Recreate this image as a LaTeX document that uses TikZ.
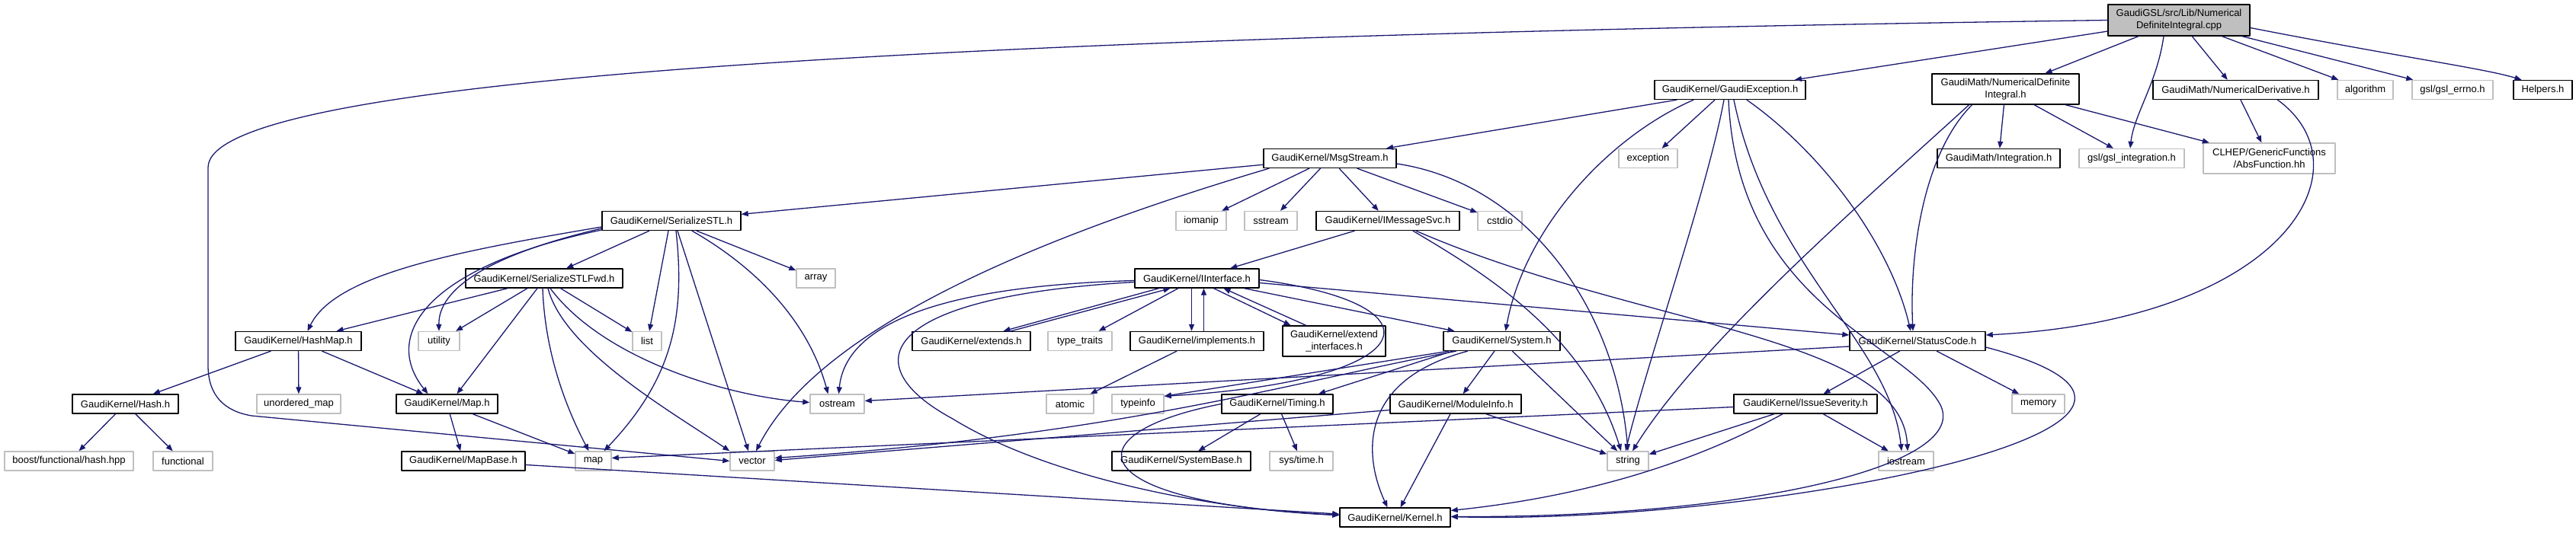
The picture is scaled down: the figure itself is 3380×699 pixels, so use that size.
\documentclass[tikz,border=0pt]{standalone}
\usepackage{fontspec}
\setmainfont{Liberation Sans}
\usepackage{tikz}
\usetikzlibrary{arrows.meta}
\definecolor{edgeblue}{HTML}{191970}
\definecolor{extgray}{HTML}{BFBFBF}
\tikzset{
  hdr/.style={draw=black,line width=1.4pt,fill=white,inner sep=0pt,minimum height=25,align=center,font=\fontsize{13}{16}\selectfont},
  ext/.style={hdr,draw=extgray},
  dep/.style={->,color=edgeblue,line width=1.3pt}
}
\begin{document}
\begin{tikzpicture}[line cap=round,line join=round,>={Triangle[length=9pt,width=7pt]},x=1pt,y=-1pt]
  \useasboundingbox (0,0) rectangle (3380,699);
  \node[hdr,fill=extgray,minimum width=186,minimum height=41] (root) at (2859,26.5) {GaudiGSL/src/Lib/Numerical\\DefiniteIntegral.cpp};
  \node[hdr,minimum width=198] (exc) at (2270,118) {GaudiKernel/GaudiException.h};
  \node[hdr,minimum width=193,minimum height=40] (ndi) at (2631.5,117) {GaudiMath/NumericalDefinite\\Integral.h};
  \node[hdr,minimum width=217] (nder) at (2933.5,118) {GaudiMath/NumericalDerivative.h};
  \node[ext,minimum width=73] (algo) at (3103.5,118) {algorithm};
  \node[ext,minimum width=106] (errno) at (3218,118) {gsl/gsl\_errno.h};
  \node[hdr,minimum width=77] (helpers) at (3336.5,118) {Helpers.h};
  \node[hdr,minimum width=174] (msg) at (1745,208) {GaudiKernel/MsgStream.h};
  \node[ext,minimum width=77] (exception) at (2162.5,208) {exception};
  \node[hdr,minimum width=161] (integ) at (2622.5,208) {GaudiMath/Integration.h};
  \node[ext,minimum width=138] (gslint) at (2797,208) {gsl/gsl\_integration.h};
  \node[ext,minimum width=173,minimum height=40] (absf) at (2977.5,208) {CLHEP/GenericFunctions\\/AbsFunction.hh};
  \node[hdr,minimum width=182] (sstl) at (881,290) {GaudiKernel/SerializeSTL.h};
  \node[ext,minimum width=66] (iomanip) at (1576,290) {iomanip};
  \node[ext,minimum width=69] (sstream) at (1667.5,290) {sstream};
  \node[hdr,minimum width=188] (imsg) at (1821,290) {GaudiKernel/IMessageSvc.h};
  \node[ext,minimum width=58] (cstdio) at (1968,290) {cstdio};
  \node[hdr,minimum width=206] (sfwd) at (714,365.5) {GaudiKernel/SerializeSTLFwd.h};
  \node[ext,minimum width=51] (array) at (1070.5,365.5) {array};
  \node[hdr,minimum width=163] (iint) at (1570.5,365.5) {GaudiKernel/IInterface.h};
  \node[hdr,minimum width=165] (hmap) at (391.5,448) {GaudiKernel/HashMap.h};
  \node[ext,minimum width=54] (utility) at (576,448) {utility};
  \node[ext,minimum width=38] (list) at (849,448) {list};
  \node[hdr,minimum width=155] (extends) at (1274.5,448) {GaudiKernel/extends.h};
  \node[ext,minimum width=84] (ttraits) at (1417,448) {type\_traits};
  \node[hdr,minimum width=175] (impl) at (1570.5,448) {GaudiKernel/implements.h};
  \node[hdr,minimum width=135,minimum height=40] (extif) at (1750.5,448) {GaudiKernel/extend\\\_interfaces.h};
  \node[hdr,minimum width=153] (sys) at (1970.5,448) {GaudiKernel/System.h};
  \node[hdr,minimum width=178] (stc) at (2516,448) {GaudiKernel/StatusCode.h};
  \node[hdr,minimum width=139] (hash) at (164.5,530.5) {GaudiKernel/Hash.h};
  \node[ext,minimum width=110] (umap) at (392,530.5) {unordered\_map};
  \node[hdr,minimum width=133] (gkmap) at (586.5,530.5) {GaudiKernel/Map.h};
  \node[ext,minimum width=71] (ostream) at (1098.5,530.5) {ostream};
  \node[ext,minimum width=62] (atomic) at (1404,530.5) {atomic};
  \node[ext,minimum width=68] (typeinfo) at (1493,530.5) {typeinfo};
  \node[hdr,minimum width=146] (timing) at (1676,530.5) {GaudiKernel/Timing.h};
  \node[hdr,minimum width=172] (modinfo) at (1910,530.5) {GaudiKernel/ModuleInfo.h};
  \node[hdr,minimum width=188] (issue) at (2369,530.5) {GaudiKernel/IssueSeverity.h};
  \node[ext,minimum width=69] (memory) at (2674.5,530.5) {memory};
  \node[ext,minimum width=169] (boosthash) at (90.5,605.5) {boost/functional/hash.hpp};
  \node[ext,minimum width=78] (functional) at (240,605.5) {functional};
  \node[hdr,minimum width=162] (mapbase) at (608,605.5) {GaudiKernel/MapBase.h};
  \node[ext,minimum width=47] (map) at (778.5,605.5) {map};
  \node[ext,minimum width=58] (vector) at (987,605.5) {vector};
  \node[hdr,minimum width=182] (sysbase) at (1550,605.5) {GaudiKernel/SystemBase.h};
  \node[ext,minimum width=83] (systime) at (1707.5,605.5) {sys/time.h};
  \node[ext,minimum width=54] (string) at (2136,605.5) {string};
  \node[ext,minimum width=72] (iostream) at (2501,605.5) {iostream};
  \node[hdr,minimum width=145] (kernel) at (1830.5,679.5) {GaudiKernel/Kernel.h};

  \draw[dep] (root) -- (exc);
  \draw[dep] (root) -- (ndi);
  \draw[dep] ([xshift=-20]root.south) .. controls (2830,110) and (2800,150) .. ([xshift=-2]gslint.north);
  \draw[dep] (root) -- (nder);
  \draw[dep] (root) -- (algo);
  \draw[dep] (root) -- (errno);
  \draw[dep] ([yshift=-10]root.east) .. controls (3150,75) and (3260,90) .. ([xshift=-28]helpers.north);
  \draw[dep] (root.west) .. controls (1100,50) and (273,110) .. (273,220) -- (273,480) .. controls (273,520) and (295,540) .. (330,546) -- (vector.west);

  \draw[dep] ([xshift=-70]exc.south) -- ([xshift=74]msg.north);
  \draw[dep] ([xshift=-48]exc.south) .. controls (2110,180) and (2000,300) .. ([xshift=5]sys.north);
  \draw[dep] ([xshift=-20]exc.south) -- ([xshift=18]exception.north);
  \draw[dep] ([xshift=-8]exc.south) .. controls (2240,250) and (2160,480) .. ([xshift=-3]string.north);
  \draw[dep] ([xshift=-2]exc.south) .. controls (2280,400) and (2500,450) .. (2545,530) .. controls (2590,610) and (2300,680) .. ([yshift=1]kernel.east);
  \draw[dep] ([xshift=5]exc.south) .. controls (2320,350) and (2480,450) .. ([xshift=-6]iostream.north);
  \draw[dep] ([xshift=22]exc.south) .. controls (2390,200) and (2480,320) .. ([xshift=-9]stc.north);

  \draw[dep] (ndi) -- (integ);
  \draw[dep] (ndi) -- (gslint);
  \draw[dep] (ndi) -- (absf);
  \draw[dep] ([xshift=-44]ndi.south) .. controls (2525,200) and (2505,330) .. ([xshift=-6]stc.north);
  \draw[dep] ([xshift=-48]ndi.south) .. controls (2450,260) and (2230,450) .. ([xshift=6]string.north);

  \draw[dep] (nder) -- (absf);
  \draw[dep] ([xshift=55]nder.south) .. controls (3110,220) and (3000,420) .. ([yshift=8]stc.east);

  \draw[dep] (msg) -- (sstl);
  \draw[dep] ([xshift=-80]msg.south) .. controls (1400,300) and (1080,420) .. ([xshift=5]vector.north);
  \draw[dep] (msg) -- (iomanip);
  \draw[dep] (msg) -- (sstream);
  \draw[dep] (msg) -- (imsg);
  \draw[dep] (msg) -- (cstdio);
  \draw[dep] ([yshift=-7]msg.east) .. controls (2000,240) and (2120,400) .. (string.north);

  \draw[dep] (imsg) -- (iint);
  \draw[dep] ([xshift=33]imsg.south) .. controls (1950,360) and (2080,440) .. ([xshift=-9]string.north);
  \draw[dep] ([xshift=37]imsg.south) .. controls (2150,430) and (2495,440) .. ([xshift=2]iostream.north);

  \draw[dep] (sstl) -- (sfwd);
  \draw[dep] (sstl) -- (array);
  \draw[dep] ([yshift=-8]sstl.west) .. controls (600,330) and (440,360) .. ([xshift=12]hmap.north);
  \draw[dep] ([yshift=-10]sstl.west) .. controls (640,335) and (575,380) .. (utility.north);
  \draw[dep] ([yshift=-12]sstl.west) .. controls (560,350) and (500,440) .. ([xshift=-25]gkmap.north);
  \draw[dep] ([xshift=-4]sstl.south) -- ([xshift=3]list.north);
  \draw[dep] ([xshift=6]sstl.south) .. controls (900,420) and (880,500) .. ([xshift=14]map.north);
  \draw[dep] ([xshift=8]sstl.south) -- ([xshift=-5]vector.north);
  \draw[dep] ([xshift=27]sstl.south) .. controls (990,350) and (1060,420) .. ([xshift=-12]ostream.north);

  \draw[dep] ([xshift=-48]sfwd.south) -- ([xshift=50]hmap.north);
  \draw[dep] (sfwd) -- (utility);
  \draw[dep] ([xshift=-9]sfwd.south) -- ([xshift=13]gkmap.north);
  \draw[dep] (sfwd) -- (list);
  \draw[dep] ([xshift=-2]sfwd.south) .. controls (715,460) and (740,530) .. ([xshift=-6]map.north);
  \draw[dep] ([xshift=5]sfwd.south) .. controls (740,460) and (880,540) .. (vector.north west);
  \draw[dep] ([xshift=8]sfwd.south) .. controls (790,470) and (950,520) .. ([yshift=2]ostream.west);

  \draw[dep] (hmap) -- (hash);
  \draw[dep] (hmap) -- (umap);
  \draw[dep] (hmap) -- (gkmap);
  \draw[dep] (hash) -- (boosthash);
  \draw[dep] (hash) -- (functional);
  \draw[dep] (gkmap) -- (mapbase);
  \draw[dep] (gkmap) -- (map);
  \draw[dep] (mapbase) -- (kernel);

  \draw[dep] ([xshift=-50]iint.south) -- ([xshift=42]extends.north);
  \draw[dep] ([xshift=52]extends.north) -- ([xshift=-35]iint.south);
  \draw[dep] (iint) -- (ttraits);
  \draw[dep] ([xshift=-7]iint.south) -- ([xshift=-7]impl.north);
  \draw[dep] ([xshift=9]impl.north) -- ([xshift=9]iint.south);
  \draw[dep] ([xshift=22]iint.south) -- ([xshift=-57]extif.north);
  \draw[dep] ([xshift=-37]extif.north) -- ([xshift=35]iint.south);
  \draw[dep] ([yshift=-3]iint.west) .. controls (1250,375) and (1110,420) .. ([xshift=2]ostream.north);
  \draw[dep] ([yshift=-5]iint.west) .. controls (1150,390) and (1120,480) .. (1250,550) .. controls (1380,630) and (1600,670) .. ([yshift=3]kernel.west);
  \draw[dep] ([xshift=62]iint.south) -- ([xshift=-62]sys.north);
  \draw[dep] ([yshift=-6]iint.east) -- ([yshift=8]stc.west);
  \draw[dep] ([yshift=-2]iint.east) .. controls (1900,400) and (1870,500) .. ([yshift=-3]typeinfo.north east);
  \draw[dep] (impl) -- (atomic);

  \draw[dep] ([xshift=-70]sys.south) -- ([yshift=-3]typeinfo.north east);
  \draw[dep] ([xshift=-65]sys.south) -- ([xshift=54]timing.north);
  \draw[dep] ([xshift=-60]sys.south) .. controls (1700,500) and (1480,570) .. ([yshift=4]vector.east);
  \draw[dep] (sys) -- (modinfo);
  \draw[dep] (sys) -- (string);
  \draw[dep] ([xshift=-45]sys.south) .. controls (1780,500) and (1790,600) .. ([xshift=-10]kernel.north);

  \draw[dep] (timing) -- (sysbase);
  \draw[dep] (timing) -- (systime);
  \draw[dep] (timing.west) .. controls (1400,570) and (1420,660) .. ([yshift=3]kernel.west);

  \draw[dep] ([yshift=-8]modinfo.west) -- ([yshift=1]vector.east);
  \draw[dep] (modinfo) -- (string);
  \draw[dep] (modinfo) -- (kernel);

  \draw[dep] ([yshift=-4]issue.west) -- ([yshift=4]map.east);
  \draw[dep] (issue) -- (string);
  \draw[dep] (issue) -- (iostream);
  \draw[dep] ([xshift=-30]issue.south) .. controls (2200,620) and (2050,655) .. ([yshift=9]kernel.east);

  \draw[dep] ([yshift=-7]stc.west) -- ([yshift=4]ostream.east);
  \draw[dep] (stc) -- (issue);
  \draw[dep] (stc) -- (memory);
  \draw[dep] ([yshift=-8]stc.east) .. controls (3000,560) and (2300,690) .. ([yshift=1]kernel.east);
\end{tikzpicture}
\end{document}
